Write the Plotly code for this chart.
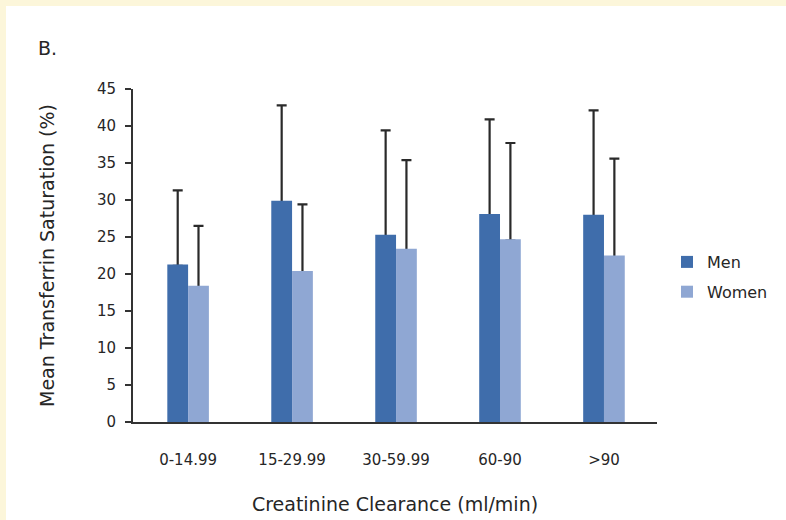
import plotly.graph_objects as go

categories = ["0-14.99", "15-29.99", "30-59.99", "60-90", ">90"]
men_mean = [21.3, 29.9, 25.3, 28.1, 28.0]
men_upper = [31.3, 42.8, 39.4, 40.9, 42.1]
women_mean = [18.4, 20.4, 23.4, 24.7, 22.5]
women_upper = [26.5, 29.4, 35.4, 37.7, 35.6]
y_ticks = [0, 5, 10, 15, 20, 25, 30, 35, 40, 45]

men_err = [u - m for u, m in zip(men_upper, men_mean)]
women_err = [u - m for u, m in zip(women_upper, women_mean)]

MEN_C = "#3f6dab"
WOMEN_C = "#8fa7d3"
ERR_C = "#2a2a2a"
FONT = "DejaVu Sans"
TXT = "#262626"

fig = go.Figure()

# error bars carried by transparent bars (so the lower cap hides under the real bars)
for vals, errs, off in [(men_mean, men_err, -0.2), (women_mean, women_err, 0.0)]:
    fig.add_trace(go.Bar(
        x=categories, y=vals, offset=off, width=0.2,
        marker=dict(color="rgba(0,0,0,0)", line=dict(width=0)),
        error_y=dict(type="data", symmetric=False, array=errs,
                     arrayminus=[0.2] * len(errs), color=ERR_C, thickness=2.2, width=5),
        showlegend=False, hoverinfo="skip"))

fig.add_trace(go.Bar(x=categories, y=men_mean, name="Men", offset=-0.2, width=0.2,
                     marker=dict(color=MEN_C, line=dict(width=0)), legendgroup="m"))
fig.add_trace(go.Bar(x=categories, y=women_mean, name="Women", offset=0.0, width=0.2,
                     marker=dict(color=WOMEN_C, line=dict(width=0)), legendgroup="w"))

L, R, T, B = 133, 129, 89, 98
W, H = 786, 520
pw, ph = W - L - R, H - T - B

def px_x(px):
    return (px - L) / pw

def px_y(py):
    return (H - B - py) / ph

fig.update_layout(
    width=W, height=H,
    margin=dict(l=L, r=R, t=T, b=B, pad=0),
    barmode="overlay",
    paper_bgcolor="#fcf6da",
    plot_bgcolor="rgba(0,0,0,0)",
    font=dict(family=FONT, color=TXT, size=15),
    showlegend=True,
    legend=dict(x=px_x(667), xanchor="left", y=px_y(277), yanchor="middle",
                font=dict(family=FONT, size=16, color=TXT),
                bgcolor="rgba(0,0,0,0)", traceorder="grouped", tracegroupgap=6),
    shapes=[dict(type="rect", xref="paper", yref="paper",
                 x0=px_x(6), x1=px_x(800), y0=px_y(540), y1=px_y(6),
                 fillcolor="white", line=dict(width=0), layer="below")],
    annotations=[dict(text="B.", xref="paper", yref="paper", x=px_x(36), y=px_y(48),
                      xanchor="left", yanchor="middle", showarrow=False,
                      font=dict(family=FONT, size=19, color=TXT))],
)

fig.update_xaxes(
    type="category", range=[-0.53, 4.51], automargin=False,
    showline=True, linecolor="#333333", linewidth=1.5,
    ticks="", showgrid=False, zeroline=False,
    tickfont=dict(family=FONT, size=15, color=TXT),
    ticklabelstandoff=23,
    title=dict(text="Creatinine Clearance (ml/min)", standoff=30,
               font=dict(family=FONT, size=19, color=TXT)),
)
fig.update_yaxes(
    range=[0, 45], tickvals=y_ticks, automargin=False,
    showline=True, linecolor="#333333", linewidth=2,
    ticks="outside", ticklen=6, tickwidth=2, tickcolor="#333333",
    showgrid=False, zeroline=False,
    tickfont=dict(family=FONT, size=15, color=TXT),
    ticklabelstandoff=6,
    title=dict(text="Mean Transferrin Saturation (%)", standoff=37,
               font=dict(family=FONT, size=19, color=TXT)),
)

fig.write_html("out.html")
